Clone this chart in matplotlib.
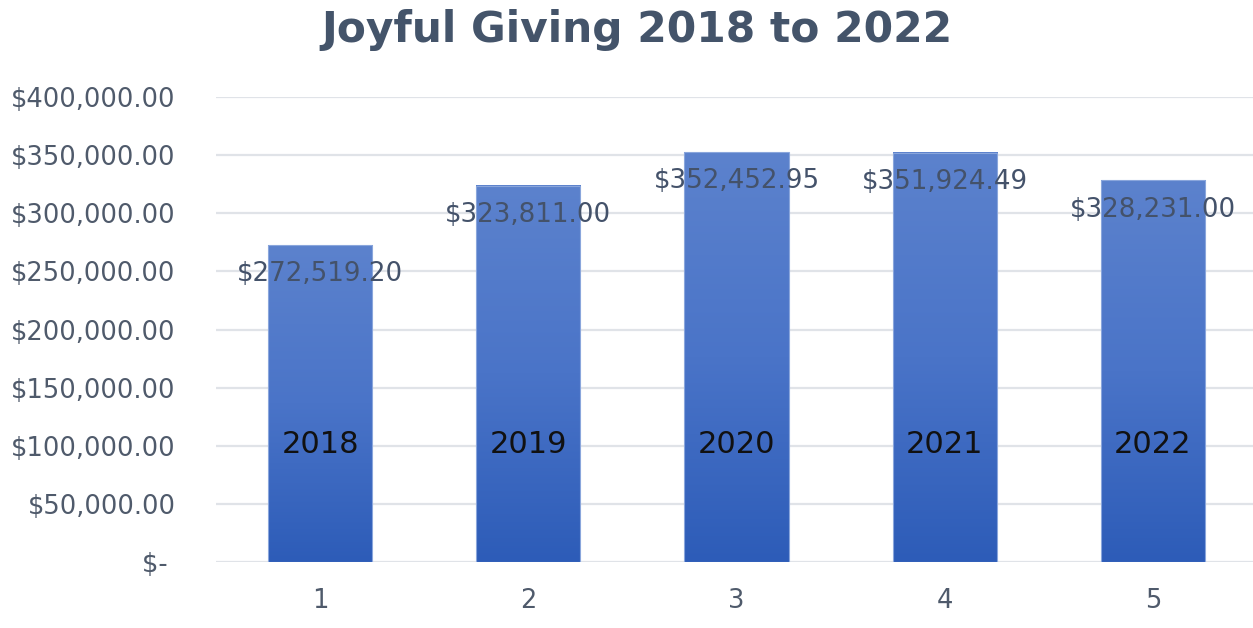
import numpy as np
import matplotlib
matplotlib.use("Agg")
import matplotlib.pyplot as plt
from matplotlib.colors import LinearSegmentedColormap
from matplotlib.ticker import FuncFormatter

categories = [1, 2, 3, 4, 5]
years = ["2018", "2019", "2020", "2021", "2022"]
values = [272519.20, 323811.00, 352452.95, 351924.49, 328231.00]
yticks = [0, 50000, 100000, 150000, 200000, 250000, 300000, 350000, 400000]

fig = plt.figure(figsize=(12.53, 6.28), dpi=100)
ax = fig.add_axes([216/1253, 1-562/628, 1041/1253, 465/628])

bars = ax.bar(categories, values, width=0.5, color="none", edgecolor="#8aa6dc", linewidth=0.8, zorder=3)
cmap = LinearSegmentedColormap.from_list("g", ["#2d5cb8", "#4a74c8", "#5c82cd"])
grad = np.linspace(0, 1, 256).reshape(-1, 1)
for b in bars:
    x0, y0 = b.get_x(), b.get_y()
    w, h = b.get_width(), b.get_height()
    ax.imshow(grad, extent=[x0, x0 + w, y0, y0 + h], origin="lower", aspect="auto",
              cmap=cmap, zorder=2)

ax.set_xlim(0.5, 5.5)
ax.set_ylim(0, 400000)
ax.set_yticks(yticks)

def fmt(v, pos):
    if v == 0:
        return "$- "
    return "${:,.2f}".format(v)
ax.yaxis.set_major_formatter(FuncFormatter(fmt))
ax.set_xticks(categories)
ax.set_xticklabels([str(c) for c in categories])

ax.grid(axis="y", color="#e0e3e8", linewidth=1.6, zorder=0)
ax.set_axisbelow(True)
for s in ax.spines.values():
    s.set_visible(False)
ax.tick_params(axis="both", length=0, labelsize=18.5, labelcolor="#4f5a6b")
ax.tick_params(axis="y", pad=29)
ax.tick_params(axis="x", pad=19)

for c, v, yr in zip(categories, values, years):
    ax.annotate("${:,.2f}".format(v), xy=(c, v), xytext=(0, -21), textcoords="offset points",
                ha="center", va="center", fontsize=18.8, color="#44526a", zorder=5)
    ax.text(c, 101500, yr, ha="center", va="center", fontsize=22, color="#111111", zorder=5)

fig.text(0.508, 1-30/628, "Joyful Giving 2018 to 2022", ha="center", va="center",
         fontsize=30.5, fontweight="bold", color="#44546a", family="DejaVu Sans")

fig.savefig("out.png", dpi=100, facecolor="white")
